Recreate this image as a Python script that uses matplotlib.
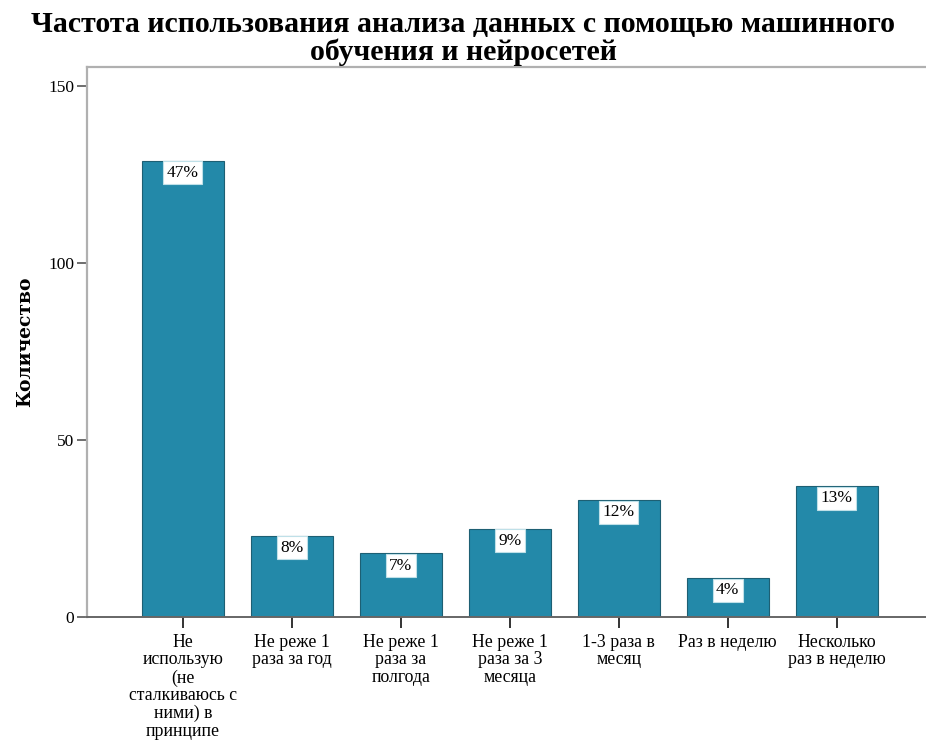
# -*- coding: utf-8 -*-

""" Частота использования анализа данных с помощью ML - столбчатая диаграмма """

import matplotlib
matplotlib.use("Agg")
import matplotlib.pyplot as plt
import numpy as np

# => DATA
categories = [
    "Не\nиспользую\n(не\nсталкиваюсь с\nними) в\nпринципе",
    "Не реже 1\nраза за год",
    "Не реже 1\nраза за\nполгода",
    "Не реже 1\nраза за 3\nмесяца",
    "1-3 раза в\nмесяц",
    "Раз в неделю",
    "Несколько\nраз в неделю",
]
counts = [129, 23, 18, 25, 33, 11, 37]
percent_labels = ["47%", "8%", "7%", "9%", "12%", "4%", "13%"]
y_ticks = [0, 50, 100, 150]

BAR = "#2389a9"
EDGE = "#1d5f73"

plt.rcParams["font.family"] = ["Liberation Serif", "DejaVu Serif"]

fig = plt.figure(figsize=(9.26, 7.45), dpi=100)
ax = fig.add_axes([87 / 926, 1 - 617 / 745, 1 - 87 / 926, (617 - 67) / 745])

x = np.arange(len(categories))
ax.bar(x, counts, width=0.75, color=BAR, edgecolor=EDGE, linewidth=0.8, zorder=2)

# => PERCENT LABELS IN WHITE BOXES AT THE TOP OF EACH BAR
for xi, val, lab in zip(x, counts, percent_labels):
    ax.annotate(lab, (xi, val), xytext=(0, -3), textcoords="offset points",
                ha="center", va="top", fontsize=12.5, zorder=4,
                bbox=dict(boxstyle="square,pad=0.2", fc="white",
                          ec="#bfe0e8", lw=0.8))

ax.set_xlim(-0.88, 6.82)
ax.set_ylim(0, 155.5)
ax.set_yticks(y_ticks)
ax.set_yticklabels([str(t) for t in y_ticks], fontsize=12.5)
ax.set_xticks(x)
ax.set_xticklabels(categories, fontsize=12.8, linespacing=1.06)

ax.tick_params(axis="y", direction="out", length=7, width=1.2, color="#555555", pad=2)
ax.tick_params(axis="x", direction="out", length=8, width=1.4, color="#333333", pad=4)

for side in ["left", "top"]:
    ax.spines[side].set_color("#b0b0b0")
    ax.spines[side].set_linewidth(1.6)
ax.spines["bottom"].set_color("#666666")
ax.spines["bottom"].set_linewidth(1.4)
ax.spines["right"].set_visible(False)

ax.set_ylabel("Количество", fontsize=13.5, fontweight="bold",
              family=["DejaVu Serif"], labelpad=10)

fig.text(0.5, 0.985, "Частота использования анализа данных с помощью машинного\nобучения и нейросетей",
         ha="center", va="top", fontsize=21.5, fontweight="bold", linespacing=1.0)

fig.savefig("out.png", dpi=100)
